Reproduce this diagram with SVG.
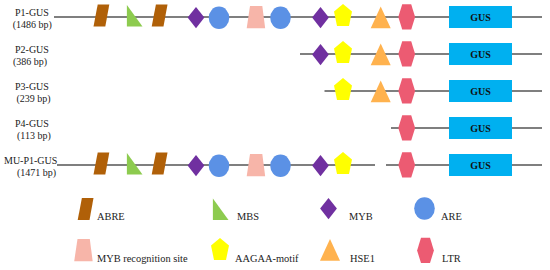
<svg xmlns="http://www.w3.org/2000/svg" xmlns:xlink="http://www.w3.org/1999/xlink" width="550" height="270" viewBox="0 0 550 270">
<style>
.lbl{font-family:"Liberation Serif","Times New Roman",serif;font-size:10px;fill:#222}
.leg{font-family:"Liberation Serif","Times New Roman",serif;font-size:10.4px;fill:#222}
.gus{font-family:"Liberation Serif","Times New Roman",serif;font-size:10px;font-weight:bold;fill:#111;text-anchor:middle}
.ln{stroke:#000;stroke-width:1.2;fill:none}
.box{fill:#00B0F0}
</style>
<defs>
<polygon id="abre" points="-3.6,-12.6 8,-12.6 4,9.6 -7.8,9.6" fill="#B06008"/>
<polygon id="mbs" points="-7.6,-12 -7.6,9.6 8,9.6" fill="#8DCB4F"/>
<polygon id="myb" points="0,-10 8.4,0.5 0,11.2 -8.4,0.5" fill="#7030A0"/>
<ellipse id="are" cx="0" cy="0.8" rx="10.3" ry="11.2" fill="#5B91E5"/>
<polygon id="mrs" points="-6,-11 6.3,-11 9.2,11.3 -9.3,11.3" fill="#F7B5A9"/>
<polygon id="aag" points="0,-13 9,-5.5 6,9 -6,9 -9,-5.5" fill="#FFFF00"/>
<polygon id="hse" points="0,-10.5 10,11.3 -10,11.3" fill="#FFB24E"/>
<polygon id="ltr" points="-4.5,-12.7 4.5,-12.7 8.4,0 4.5,12.5 -4.5,12.5 -8.4,0" fill="#EC5B72"/>
</defs>

<g id="connectors">
<line class="ln" x1="54" y1="17" x2="542" y2="17"/>
<line class="ln" x1="300" y1="54" x2="542" y2="54"/>
<line class="ln" x1="324.5" y1="91" x2="542" y2="91"/>
<line class="ln" x1="391" y1="128" x2="542" y2="128"/>
<line class="ln" x1="57" y1="165" x2="375" y2="165"/>
<line class="ln" x1="386" y1="165" x2="542" y2="165"/>
</g>

<g id="row-p1">
<text class="lbl" x="15" y="16">P1-GUS</text>
<text class="lbl" x="12.7" y="27.5">(1486 bp)</text>
<use xlink:href="#abre" x="101.3" y="17"/>
<use xlink:href="#mbs" x="134.5" y="17"/>
<use xlink:href="#abre" x="159.5" y="17"/>
<use xlink:href="#myb" x="196" y="17"/>
<use xlink:href="#are" x="219" y="17"/>
<use xlink:href="#mrs" x="256" y="17"/>
<use xlink:href="#are" x="280.5" y="17"/>
<use xlink:href="#myb" x="320.5" y="17"/>
<use xlink:href="#aag" x="343" y="17"/>
<use xlink:href="#hse" x="380.7" y="17"/>
<use xlink:href="#ltr" x="406.7" y="17"/>
<rect class="box" x="449" y="6" width="63" height="22"/>
<text class="gus" x="480.5" y="20.5">GUS</text>
</g>

<g id="row-p2">
<text class="lbl" x="15" y="53">P2-GUS</text>
<text class="lbl" x="13" y="64.5">(386 bp)</text>
<use xlink:href="#myb" x="320.5" y="54"/>
<use xlink:href="#aag" x="343" y="54"/>
<use xlink:href="#hse" x="380.7" y="54"/>
<use xlink:href="#ltr" x="406.7" y="54"/>
<rect class="box" x="449" y="43" width="63" height="22"/>
<text class="gus" x="480.5" y="57.5">GUS</text>
</g>

<g id="row-p3">
<text class="lbl" x="15" y="90">P3-GUS</text>
<text class="lbl" x="16.5" y="101.5">(239 bp)</text>
<use xlink:href="#aag" x="343" y="91"/>
<use xlink:href="#hse" x="380.7" y="91"/>
<use xlink:href="#ltr" x="406.7" y="91"/>
<rect class="box" x="449" y="80" width="63" height="22"/>
<text class="gus" x="480.5" y="94.5">GUS</text>
</g>

<g id="row-p4">
<text class="lbl" x="15" y="127">P4-GUS</text>
<text class="lbl" x="17" y="138.5">(113 bp)</text>
<use xlink:href="#ltr" x="406.7" y="128"/>
<rect class="box" x="449" y="117" width="63" height="22"/>
<text class="gus" x="480.5" y="131.5">GUS</text>
</g>

<g id="row-mu">
<text class="lbl" x="4" y="164">MU-P1-GUS</text>
<text class="lbl" x="17" y="175.5">(1471 bp)</text>
<use xlink:href="#abre" x="101.3" y="165"/>
<use xlink:href="#mbs" x="134.5" y="165"/>
<use xlink:href="#abre" x="159.5" y="165"/>
<use xlink:href="#myb" x="196" y="165"/>
<use xlink:href="#are" x="219" y="165"/>
<use xlink:href="#mrs" x="256" y="165"/>
<use xlink:href="#are" x="280.5" y="165"/>
<use xlink:href="#myb" x="320.5" y="165"/>
<use xlink:href="#aag" x="343" y="165"/>
<use xlink:href="#ltr" x="406.7" y="165"/>
<rect class="box" x="449" y="154" width="63" height="22"/>
<text class="gus" x="480.5" y="168.5">GUS</text>
</g>

<g id="legend">
<use xlink:href="#abre" x="85.5" y="210.5"/>
<text class="leg" x="97" y="220">ABRE</text>
<use xlink:href="#mbs" x="220.5" y="210.5"/>
<text class="leg" x="237" y="220">MBS</text>
<use xlink:href="#myb" x="328.5" y="208"/>
<text class="leg" x="349" y="220">MYB</text>
<use xlink:href="#are" x="424.5" y="207.7"/>
<text class="leg" x="441" y="220">ARE</text>
<use xlink:href="#mrs" x="83.5" y="250"/>
<text class="leg" x="97" y="262">MYB recognition site</text>
<use xlink:href="#aag" x="220" y="251"/>
<text class="leg" x="235" y="262">AAGAA-motif</text>
<use xlink:href="#hse" x="330" y="249.5"/>
<text class="leg" x="350" y="262">HSE1</text>
<use xlink:href="#ltr" x="425.5" y="250.5"/>
<text class="leg" x="442" y="262">LTR</text>
</g>
</svg>
